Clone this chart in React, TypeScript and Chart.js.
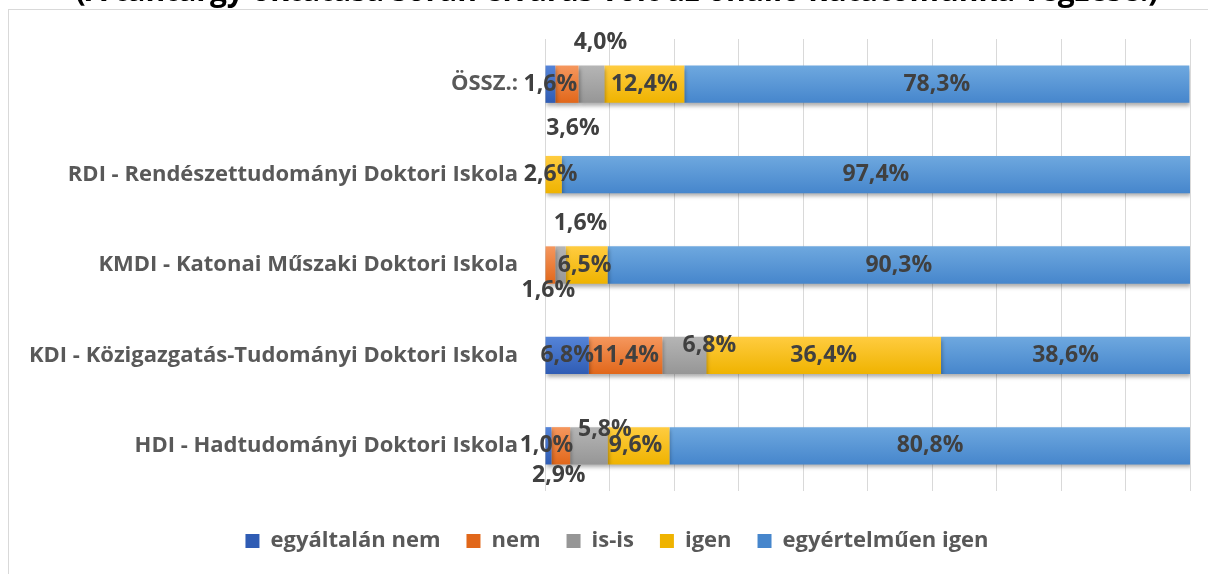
import React, { useEffect, useRef } from 'react';
import { Chart, registerables } from 'chart.js';

Chart.register(...registerables);

const TITLE = '(A tantárgy oktatása során elvárás volt az önálló kutatómunka végzése.)';
const CATEGORIES = [
  'ÖSSZ.:',
  'RDI - Rendészettudományi Doktori Iskola',
  'KMDI - Katonai Műszaki Doktori Iskola',
  'KDI - Közigazgatás-Tudományi Doktori Iskola',
  'HDI - Hadtudományi Doktori Iskola',
];
const SERIES_NAMES = ['egyáltalán nem', 'nem', 'is-is', 'igen', 'egyértelműen igen'];
const EGYALTALAN_NEM = [1.6, 0, 0, 6.8, 1.0];
const NEM = [3.6, 0, 1.6, 11.4, 2.9];
const IS_IS = [4.0, 0, 1.6, 6.8, 5.8];
const IGEN = [12.4, 2.6, 6.5, 36.4, 9.6];
const EGYERTELMUEN_IGEN = [78.3, 97.4, 90.3, 38.6, 80.8];

const SERIES_VALUES = [EGYALTALAN_NEM, NEM, IS_IS, IGEN, EGYERTELMUEN_IGEN];

// [gradient top, gradient bottom, solid]
const SERIES_COLORS: [string, string, string][] = [
  ['#5584d8', '#2f5cb4', '#4472C4'],
  ['#f5975e', '#e1671a', '#ED7D31'],
  ['#b5b5b5', '#969696', '#A5A5A5'],
  ['#ffcc40', '#efb300', '#FFC000'],
  ['#6ea8df', '#4686cc', '#5B9BD5'],
];

const BAR_PCT = 0.413;
const FONT = 'Open Sans';

// label nudges (dx, dy) keyed "category-series", as moved in the original
const LABEL_SHIFT: Record<string, [number, number]> = {
  '0-1': [6, 44],
  '0-2': [9, -42],
  '1-3': [-3, 0],
  '2-1': [-2, 25],
  '2-2': [20, -42],
  '2-3': [-2, 0],
  '3-2': [25, -10],
  '4-0': [-2, 0],
  '4-1': [-2, 30],
  '4-2': [16, -16],
  '4-3': [-3, 0],
};

function barFill(colors: [string, string, string]) {
  return (ctx: any) => {
    if (ctx.type !== 'data') return colors[2];
    const chart = ctx.chart;
    const ys = chart.scales && chart.scales.y;
    if (!ys || !ys.height) return colors[2];
    const yc = ys.getPixelForValue(ctx.dataIndex);
    const half = ((ys.height / CATEGORIES.length) * BAR_PCT) / 2;
    const g = chart.ctx.createLinearGradient(0, yc - half, 0, yc + half);
    g.addColorStop(0, colors[0]);
    g.addColorStop(1, colors[1]);
    return g;
  };
}

const framePlugin = {
  id: 'frame',
  beforeDraw(chart: any) {
    const c = chart.ctx;
    c.save();
    c.fillStyle = '#ffffff';
    c.fillRect(0, 0, chart.width, chart.height);
    c.strokeStyle = '#d9d9d9';
    c.lineWidth = 1;
    c.strokeRect(8.5, 39.5, chart.width + 50, chart.height + 50);
    c.restore();
  },
};

const labelPlugin = {
  id: 'barLabels',
  beforeDatasetsDraw(chart: any) {
    const c = chart.ctx;
    c.save();
    c.shadowColor = 'rgba(0,0,0,0.32)';
    c.shadowBlur = 4;
    c.shadowOffsetX = 1;
    c.shadowOffsetY = 3;
  },
  afterDatasetsDraw(chart: any) {
    const c = chart.ctx;
    c.restore();
    c.save();
    c.font = `bold 23px "${FONT}"`;
    c.fillStyle = '#404040';
    c.textAlign = 'center';
    c.textBaseline = 'middle';
    chart.data.datasets.forEach((ds: any, di: number) => {
      const meta = chart.getDatasetMeta(di);
      meta.data.forEach((el: any, ci: number) => {
        const v = ds.data[ci];
        if (!v) return;
        const p = el.getCenterPoint();
        const s = LABEL_SHIFT[`${ci}-${di}`] || [0, 0];
        c.fillText(v.toFixed(1).replace('.', ',') + '%', p.x + s[0], p.y + s[1]);
      });
    });
    c.restore();
  },
};

export default function App() {
  const ref = useRef<HTMLCanvasElement | null>(null);
  useEffect(() => {
    if (!ref.current) return;
    const chart = new Chart(ref.current, {
      type: 'bar',
      data: {
        labels: CATEGORIES,
        datasets: SERIES_NAMES.map((name, i) => ({
          label: name,
          data: SERIES_VALUES[i],
          backgroundColor: barFill(SERIES_COLORS[i]) as any,
          borderWidth: 0,
          barPercentage: BAR_PCT,
          categoryPercentage: 1,
        })),
      },
      options: {
        indexAxis: 'y',
        responsive: false,
        animation: false,
        devicePixelRatio: 1,
        layout: { padding: { left: 8, right: 0, top: 0, bottom: 12 } },
        plugins: {
          title: {
            display: true,
            text: TITLE,
            color: '#000000',
            font: { family: FONT, weight: 'bold', size: 30 },
            padding: { top: 4, bottom: 29 },
          },
          legend: {
            position: 'bottom',
            labels: {
              boxWidth: 14,
              boxHeight: 14,
              padding: 26,
              color: '#595959',
              font: { family: FONT, weight: 'bold', size: 22 },
            },
          },
          tooltip: { enabled: false },
        },
        scales: {
          x: {
            type: 'linear',
            stacked: true,
            min: 0,
            max: 100,
            ticks: { display: false, stepSize: 10 },
            grid: { color: '#d9d9d9', lineWidth: 1, drawTicks: false },
            border: { display: false },
            afterFit: (s: any) => {
              s.height = 13;
            },
          },
          y: {
            type: 'category',
            stacked: true,
            grid: { display: false, drawTicks: false },
            border: { display: false },
            ticks: {
              color: '#595959',
              font: { family: FONT, weight: 'bold', size: 22 },
              padding: 27,
            },
            afterFit: (s: any) => {
              s.width = 537;
            },
          },
          y2: {
            type: 'category',
            position: 'right',
            display: true,
            grid: { display: false, drawTicks: false },
            border: { display: false },
            ticks: { display: false },
            afterFit: (s: any) => {
              s.width = 36;
            },
          },
        },
      } as any,
      plugins: [framePlugin, labelPlugin],
    });
    return () => chart.destroy();
  }, []);

  return (
    <div
      style={{
        position: 'fixed',
        left: 0,
        top: 0,
        width: 1208,
        height: 574,
        overflow: 'hidden',
        background: '#ffffff',
      }}
    >
      <canvas
        ref={ref}
        width={1226}
        height={604}
        style={{ position: 'absolute', left: 0, top: -30, width: 1226, height: 604 }}
      />
    </div>
  );
}
